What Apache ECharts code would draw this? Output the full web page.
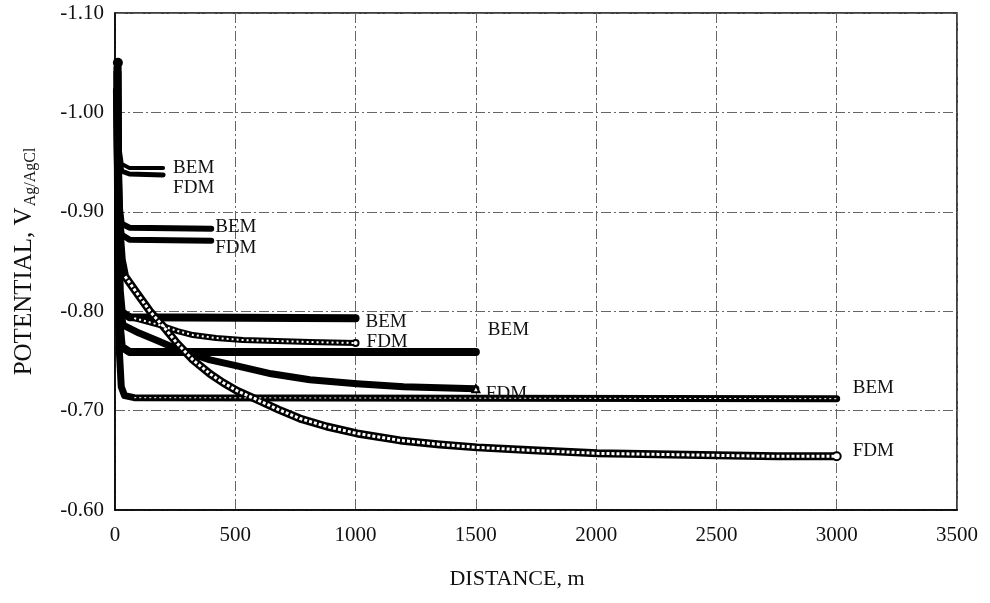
<!DOCTYPE html>
<html>
<head>
<meta charset="utf-8">
<script src="https://cdn.jsdelivr.net/npm/echarts@6/dist/echarts.min.js"></script>
<style>
  html, body { margin: 0; padding: 0; background: #fff; }
  #potential { width: 990px; height: 603px; }
</style>
</head>
<body>
<div id="potential"></div>
<script>
  // axis ranges
  var xMin = 0, xMax = 3500, xStep = 500;
  var yMin = -1.10, yMax = -0.60, yStep = 0.1;

  // [distance m, potential V] for each pipeline length
  var bem200 = [[10, -1.04], [14, -0.99], [20, -0.962], [28, -0.948], [60, -0.944], [200, -0.944]];
  var fdm200 = [[8, -1.02], [13, -0.98], [19, -0.955], [28, -0.941], [60, -0.938], [200, -0.937]];
  var bem400 = [[10, -1.04], [14, -0.95], [20, -0.905], [28, -0.888], [60, -0.884], [400, -0.883]];
  var fdm400 = [[8, -1.02], [13, -0.94], [19, -0.895], [28, -0.877], [60, -0.872], [400, -0.871]];
  var bem1000 = [[10, -1.045], [14, -0.88], [20, -0.82], [28, -0.799], [60, -0.794], [1000, -0.793]];
  var fdm1000 = [[8, -1.02], [13, -0.87], [19, -0.815], [32, -0.798], [80, -0.793], [187, -0.786],
                 [260, -0.780], [324, -0.776], [420, -0.773], [532, -0.771], [810, -0.769], [1000, -0.768]];
  var bem1500 = [[10, -1.04], [14, -0.85], [20, -0.785], [28, -0.764], [60, -0.759], [1500, -0.759]];
  var fdm1500 = [[8, -1.02], [13, -0.86], [19, -0.805], [34, -0.786], [100, -0.778], [180, -0.770],
                 [257, -0.762], [395, -0.751], [507, -0.745], [650, -0.737], [810, -0.731],
                 [1006, -0.727], [1200, -0.724], [1500, -0.722]];
  var bem3000 = [[12, -1.05], [14, -0.85], [18, -0.76], [26, -0.724], [40, -0.715], [80, -0.713], [3000, -0.712]];
  var fdm3000 = [[8, -1.022], [13, -0.94], [18, -0.885], [28, -0.852], [42, -0.835], [83, -0.821],
                 [145, -0.800], [200, -0.785], [257, -0.768], [324, -0.751], [395, -0.737], [450, -0.728],
                 [507, -0.720], [590, -0.711], [680, -0.701], [769, -0.692], [880, -0.684], [1006, -0.677],
                 [1185, -0.670], [1350, -0.666], [1505, -0.663], [1738, -0.660], [2004, -0.657],
                 [2250, -0.656], [2500, -0.655], [2750, -0.654], [3000, -0.654]];

  var serif = '"Liberation Serif", "Times New Roman", serif';

  function line(name, data, width, label, offset, extra) {
    var s = {
      name: name,
      type: 'line',
      data: data,
      symbol: 'none',
      clip: false,
      lineStyle: { color: '#000', width: width, cap: 'round', join: 'round' },
      z: 3
    };
    if (label) {
      s.endLabel = {
        show: true,
        formatter: label,
        distance: 0,
        offset: offset,
        color: '#111',
        fontFamily: serif,
        fontSize: 19
      };
    }
    for (var k in extra) s[k] = extra[k];
    return s;
  }

  // white dashes inside a black band give the chain-of-markers look
  function beads(data, width, dash) {
    return {
      type: 'line',
      data: data,
      symbol: 'none',
      clip: false,
      silent: true,
      lineStyle: { color: '#fff', width: width, type: dash, join: 'round' },
      z: 4
    };
  }

  function lastOnly(n, size) {
    return function (v, p) { return p.dataIndex === n - 1 ? size : 0; };
  }
  function firstOnly(size) {
    return function (v, p) { return p.dataIndex === 0 ? size : 0; };
  }

  var myChart = echarts.init(document.getElementById('potential'));
  var option = {
    animation: false,
    backgroundColor: '#fff',
    grid: {
      left: 115, right: 33, top: 13, bottom: 93,
      show: true, borderColor: '#000', borderWidth: 1.5
    },
    xAxis: {
      type: 'value',
      min: xMin, max: xMax, interval: xStep,
      name: 'DISTANCE, m',
      nameLocation: 'middle',
      nameGap: 58,
      nameTextStyle: { color: '#111', fontFamily: serif, fontSize: 22, padding: [0, 38, 0, 0] },
      axisLine: { show: true, lineStyle: { color: '#000', width: 1.5 } },
      axisTick: { show: false },
      axisLabel: {
        color: '#111', fontFamily: serif, fontSize: 21, margin: 15,
        formatter: function (v) { return String(v); }
      },
      splitLine: { show: true, lineStyle: { color: '#666', width: 1, type: [10, 3, 2, 3] } }
    },
    yAxis: {
      type: 'value',
      inverse: true,
      min: yMin, max: yMax, interval: yStep,
      name: '{a|POTENTIAL, V}{b|Ag/AgCl}',
      nameLocation: 'middle',
      nameGap: 76,
      nameTextStyle: {
        rich: {
          a: { color: '#111', fontFamily: serif, fontSize: 25, lineHeight: 30 },
          b: { color: '#111', fontFamily: serif, fontSize: 16, lineHeight: 30, verticalAlign: 'bottom', padding: [11, 0, 0, 1] }
        }
      },
      axisLine: { show: true, lineStyle: { color: '#000', width: 1.5 } },
      axisTick: { show: false },
      axisLabel: {
        color: '#111', fontFamily: serif, fontSize: 21, margin: 11,
        formatter: function (v) { return v.toFixed(2); }
      },
      splitLine: { show: true, lineStyle: { color: '#666', width: 1, type: [10, 3, 2, 3] } }
    },
    series: [
      line('BEM 200', bem200, 4, 'BEM', [10, 0]),
      line('FDM 200', fdm200, 5, 'FDM', [10, 13]),
      line('BEM 400', bem400, 6, 'BEM', [4, -2]),
      line('FDM 400', fdm400, 6, 'FDM', [4, 7]),
      line('BEM 1000', bem1000, 8, 'BEM', [10, 4]),
      line('FDM 1000', fdm1000, 6, 'FDM', [11, -1], {
        symbol: 'emptyCircle', symbolSize: lastOnly(fdm1000.length, 6), showSymbol: true,
        itemStyle: { color: '#000', borderWidth: 1.5 }
      }),
      beads(fdm1000.slice(4), 2, [2, 3]),
      line('BEM 1500', bem1500, 8, 'BEM', [12, -22]),
      line('FDM 1500', fdm1500, 7, 'FDM', [10, 5], {
        symbol: 'emptyTriangle', symbolSize: lastOnly(fdm1500.length, 7), showSymbol: true,
        itemStyle: { color: '#000', borderWidth: 1.5 }
      }),
      line('FDM 3000', fdm3000, 8, 'FDM', [16, -5], {
        symbol: 'emptyCircle', symbolSize: lastOnly(fdm3000.length, 8), showSymbol: true,
        itemStyle: { color: '#000', borderWidth: 2 }
      }),
      beads(fdm3000.slice(4), 3, [3, 2]),
      line('BEM 3000', bem3000, 7, 'BEM', [16, -11], {
        symbol: 'circle', symbolSize: firstOnly(10), showSymbol: true,
        itemStyle: { color: '#000' }
      }),
      beads(bem3000.slice(5), 1, [2, 3])
    ]
  };

  myChart.setOption(option);
</script>
</body>
</html>
